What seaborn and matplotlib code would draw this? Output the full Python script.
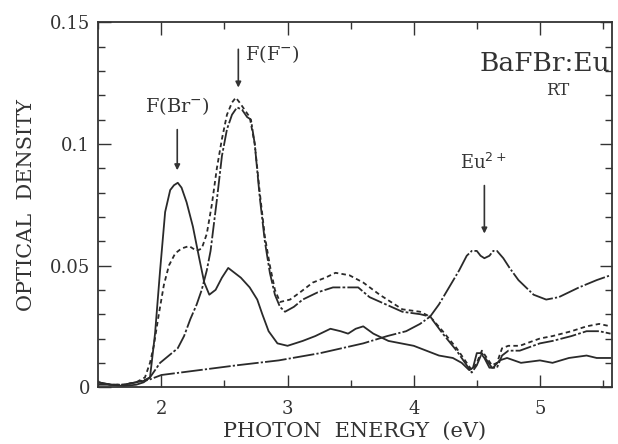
import matplotlib
matplotlib.use("Agg")
import matplotlib.pyplot as plt
import seaborn as sns
from matplotlib.ticker import MultipleLocator

# === Data === #
# solid curve: F(Br-) band + weaker F(F-) band
solid_x = [1.50, 1.60, 1.70, 1.80, 1.86, 1.91, 1.95, 1.99, 2.03, 2.07, 2.10, 2.13, 2.16, 2.20,
           2.25, 2.30, 2.34, 2.38, 2.43, 2.48, 2.53, 2.58, 2.63, 2.70, 2.76, 2.80, 2.85, 2.92,
           3.00, 3.12, 3.22, 3.34, 3.42, 3.48, 3.54, 3.60, 3.68, 3.80, 3.90, 4.00, 4.10, 4.20,
           4.31, 4.38, 4.44, 4.47, 4.50, 4.53, 4.56, 4.60, 4.63, 4.68, 4.74, 4.85, 5.00, 5.10,
           5.23, 5.37, 5.45, 5.56]
solid_y = [0.002, 0.001, 0.0005, 0.001, 0.002, 0.004, 0.022, 0.048, 0.072, 0.081, 0.083, 0.084,
           0.082, 0.076, 0.066, 0.053, 0.043, 0.038, 0.040, 0.045, 0.049, 0.047, 0.045, 0.041,
           0.036, 0.030, 0.023, 0.018, 0.017, 0.019, 0.021, 0.024, 0.023, 0.022, 0.024, 0.025,
           0.022, 0.019, 0.018, 0.017, 0.015, 0.013, 0.012, 0.010, 0.007, 0.008, 0.014, 0.014,
           0.012, 0.008, 0.008, 0.011, 0.012, 0.010, 0.011, 0.010, 0.012, 0.013, 0.012, 0.012]

# dashed curve: shoulder at F(Br-) + strong F(F-)
dash_x = [1.50, 1.60, 1.70, 1.80, 1.87, 1.91, 1.94, 1.98, 2.02, 2.06, 2.11, 2.16, 2.22, 2.28,
          2.32, 2.36, 2.40, 2.44, 2.48, 2.52, 2.56, 2.59, 2.62, 2.66, 2.70, 2.74, 2.78, 2.82,
          2.86, 2.90, 2.94, 3.02, 3.10, 3.20, 3.30, 3.38, 3.49, 3.60, 3.73, 3.91, 4.05, 4.13,
          4.23, 4.34, 4.42, 4.46, 4.50, 4.54, 4.58, 4.62, 4.66, 4.70, 4.75, 4.84, 5.00, 5.10,
          5.25, 5.37, 5.47, 5.56]
dash_y = [0.002, 0.001, 0.001, 0.002, 0.004, 0.010, 0.017, 0.030, 0.042, 0.050, 0.055, 0.057,
          0.058, 0.056, 0.057, 0.063, 0.075, 0.090, 0.102, 0.112, 0.117, 0.119, 0.117, 0.114,
          0.111, 0.100, 0.080, 0.062, 0.050, 0.040, 0.035, 0.036, 0.039, 0.043, 0.045, 0.047,
          0.046, 0.043, 0.038, 0.032, 0.031, 0.029, 0.023, 0.016, 0.010, 0.007, 0.010, 0.015,
          0.012, 0.009, 0.010, 0.016, 0.017, 0.017, 0.020, 0.021, 0.023, 0.025, 0.026, 0.025]

# dash-dot curve: F(F-) band only
dd_x = [1.50, 1.60, 1.70, 1.80, 1.87, 1.91, 1.99, 2.06, 2.13, 2.18, 2.23, 2.28, 2.32, 2.36,
        2.39, 2.44, 2.48, 2.52, 2.56, 2.60, 2.64, 2.68, 2.71, 2.74, 2.78, 2.82, 2.86, 2.90,
        2.94, 2.98, 3.05, 3.12, 3.24, 3.36, 3.46, 3.56, 3.65, 3.78, 3.91, 4.05, 4.13, 4.23,
        4.34, 4.42, 4.46, 4.50, 4.54, 4.58, 4.62, 4.66, 4.70, 4.75, 4.84, 5.00, 5.10, 5.25,
        5.37, 5.47, 5.56]
dd_y = [0.002, 0.001, 0.001, 0.002, 0.003, 0.004, 0.010, 0.013, 0.016, 0.021, 0.028, 0.034,
        0.040, 0.048, 0.056, 0.077, 0.095, 0.106, 0.112, 0.115, 0.114, 0.111, 0.110, 0.100,
        0.078, 0.060, 0.047, 0.038, 0.033, 0.031, 0.033, 0.036, 0.039, 0.041, 0.041, 0.041,
        0.037, 0.034, 0.031, 0.030, 0.029, 0.022, 0.015, 0.009, 0.006, 0.009, 0.014, 0.011,
        0.008, 0.008, 0.013, 0.015, 0.015, 0.018, 0.019, 0.021, 0.023, 0.023, 0.022]

# Eu2+ absorption
eu_x = [1.50, 1.60, 1.70, 1.80, 1.90, 2.00, 2.30, 2.60, 2.93, 3.26, 3.60, 3.79, 3.94, 4.05,
        4.13, 4.20, 4.28, 4.36, 4.42, 4.46, 4.50, 4.53, 4.56, 4.60, 4.63, 4.66, 4.71, 4.76,
        4.83, 4.89, 4.95, 5.05, 5.15, 5.31, 5.45, 5.56]
eu_y = [0.001, 0.001, 0.001, 0.002, 0.003, 0.005, 0.007, 0.009, 0.011, 0.014, 0.018, 0.021,
        0.023, 0.026, 0.029, 0.034, 0.041, 0.048, 0.054, 0.056, 0.056, 0.054, 0.053, 0.054,
        0.056, 0.056, 0.053, 0.049, 0.044, 0.041, 0.038, 0.036, 0.037, 0.041, 0.044, 0.046]

y_ticks = [0, 0.05, 0.1, 0.15]
y_tick_labels = ["0", "0.05", "0.1", "0.15"]
x_ticks = [2, 3, 4, 5]

# === Plot ===
sns.set_style("ticks")
plt.rcParams["font.family"] = ["DejaVu Serif"]

fig = plt.figure(figsize=(6.18, 4.44), dpi=100)
ax = fig.add_axes([0.159, 0.128, 0.831, 0.822])

ink = "#2a2a2a"
lw = 1.3
sns.lineplot(x=solid_x, y=solid_y, ax=ax, color=ink, lw=lw, estimator=None)
sns.lineplot(x=dash_x, y=dash_y, ax=ax, color=ink, lw=lw, estimator=None,
             linestyle=(0, (2.5, 1.8)))
sns.lineplot(x=dd_x, y=dd_y, ax=ax, color=ink, lw=lw, estimator=None,
             linestyle=(0, (9, 1.2, 1.5, 1.2)))
sns.lineplot(x=eu_x, y=eu_y, ax=ax, color=ink, lw=lw, estimator=None,
             linestyle=(0, (12, 1.2, 1.2, 1.2)))

ax.set_xlim(1.5, 5.57)
ax.set_ylim(0, 0.15)
ax.set_xticks(x_ticks)
ax.set_yticks(y_ticks)
ax.set_yticklabels(y_tick_labels)
ax.xaxis.set_minor_locator(MultipleLocator(0.5))
ax.yaxis.set_minor_locator(MultipleLocator(0.01))
ax.tick_params(which="both", direction="in", top=True, right=True, labelsize=13,
               color="#333333", labelcolor="#333333", width=1.0)
ax.tick_params(which="major", length=9)
ax.tick_params(which="minor", length=5)
ax.tick_params(axis="x", pad=9)
ax.tick_params(axis="y", pad=6)
for s in ax.spines.values():
    s.set_linewidth(1.3)
    s.set_color("#333333")

ax.set_xlabel("PHOTON  ENERGY  (eV)", fontsize=15, color="#333333", labelpad=3)
ax.set_ylabel("OPTICAL  DENSITY", fontsize=15, color="#333333", labelpad=10)

# annotations
arrow = dict(arrowstyle="-|>", color="#333333", lw=1.2, mutation_scale=8)
ax.annotate("", xy=(2.126, 0.088), xytext=(2.126, 0.107), arrowprops=arrow)
ax.text(2.126, 0.111, "F(Br$^{-}$)", ha="center", va="bottom", fontsize=14, color="#333333")
ax.annotate("", xy=(2.61, 0.122), xytext=(2.61, 0.140), arrowprops=arrow)
ax.text(2.66, 0.137, "F(F$^{-}$)", ha="left", va="center", fontsize=14, color="#333333")
ax.annotate("", xy=(4.56, 0.062), xytext=(4.56, 0.084), arrowprops=arrow)
ax.text(4.55, 0.088, "Eu$^{2+}$", ha="center", va="bottom", fontsize=13, color="#333333")
ax.text(5.56, 0.133, "BaFBr:Eu", ha="right", va="center", fontsize=19, color="#333333")
ax.text(5.14, 0.122, "RT", ha="center", va="center", fontsize=12, color="#333333")

plt.savefig("out.png", dpi=100)
